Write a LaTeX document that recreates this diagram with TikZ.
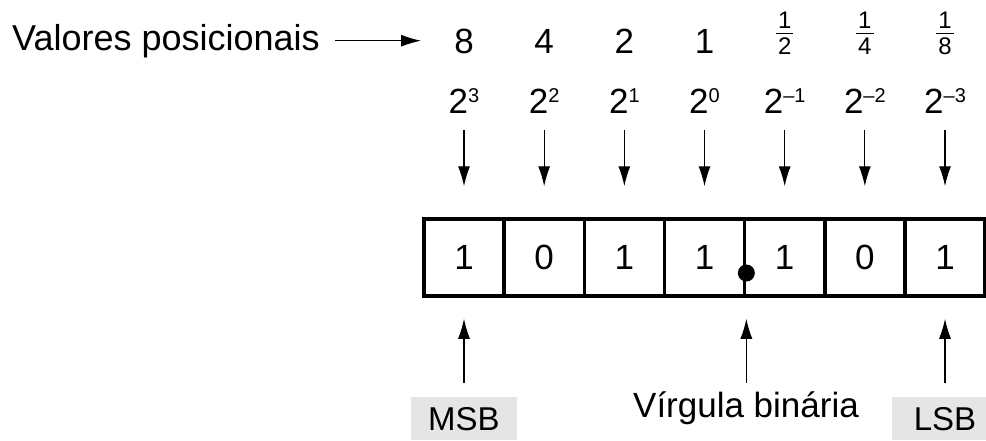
\documentclass[tikz,border=0pt]{standalone}
\usepackage{fontspec}
\setmainfont{Liberation Sans}
\usetikzlibrary{calc,arrows.meta}

\definecolor{tagfill}{gray}{0.9}
\newcommand{\pw}[1]{2\raisebox{11pt}{\fontsize{20}{20}\selectfont #1}}
\newcommand{\frc}[2]{{\fontsize{24}{28}\selectfont\setlength{\arrayrulewidth}{1.3pt}%
  \begin{tabular}{@{\hspace{2pt}}c@{\hspace{2pt}}}#1\\[-4pt]\hline\rule{0pt}{21pt}#2\end{tabular}}}

\begin{document}
\begin{tikzpicture}[x=1pt,y=-1pt,
    txt/.style={font=\fontsize{35}{40}\selectfont, inner sep=0pt},
    cell/.style={txt, draw, line width=3.5pt, minimum width=80.17pt, minimum height=77pt},
    arr/.style={-{Latex[length=20pt,width=12pt]}, line width=1.2pt},
    tag/.style={fill=tagfill, inner sep=0pt, minimum width=106pt, text height=33pt,
      text depth=10pt, font=\fontsize{33}{40}\selectfont}]
  \useasboundingbox (0,0) rectangle (986,440);

  % the register
  \foreach \bit [count=\i] in {1,0,1,1,1,0,1}{
    \node[cell] (c\i) at ({464+80.17*(\i-1)},257.5) {\bit};
  }
  \node[circle, fill, inner sep=0pt, minimum size=17pt] (pt) at ($(c4.east)+(0,15.5)$) {};

  % weights
  \foreach \e [count=\i] in {3,2,1,0,–1,–2,–3}{
    \node[txt, anchor=base, text height=25pt, text depth=0pt] (p\i) at (c\i |- 0,113) {\pw{\e}};
    \draw[arr, shorten <=17pt, shorten >=31pt] (p\i.south) -- (c\i.north);
  }
  \foreach \v [count=\i] in {8,4,2,1}{
    \node[txt, anchor=base] (v\i) at (c\i |- 0,53) {\v};
  }
  \foreach \d [count=\j from 5] in {2,4,8}{
    \node[inner sep=0pt] (v\j) at (c\j |- 0,36) {\frc{1}{\d}};
  }

  \node[txt, font=\fontsize{36}{40}\selectfont, anchor=base west] (vp) at (12,50) {Valores posicionais};
  \draw[arr, shorten <=15pt, shorten >=33pt] (vp.east) -- (vp.east -| v1.west);

  % labels below
  \node[tag, anchor=north] (msb) at (c1 |- 0,397) {MSB};
  \node[tag, anchor=north] (lsb) at (c7 |- 0,397) {LSB};
  \node[txt, anchor=base, text height=34pt] (vb) at (746,417) {Vírgula binária};

  \draw[arr, shorten <=14pt, shorten >=21pt] (msb.north) -- (c1.south);
  \draw[arr, shorten <=14pt, shorten >=21pt] (lsb.north) -- (c7.south);
  \draw[arr, shorten >=21pt] (vb.north -| c4.south east) -- (c4.south east);
\end{tikzpicture}
\end{document}
